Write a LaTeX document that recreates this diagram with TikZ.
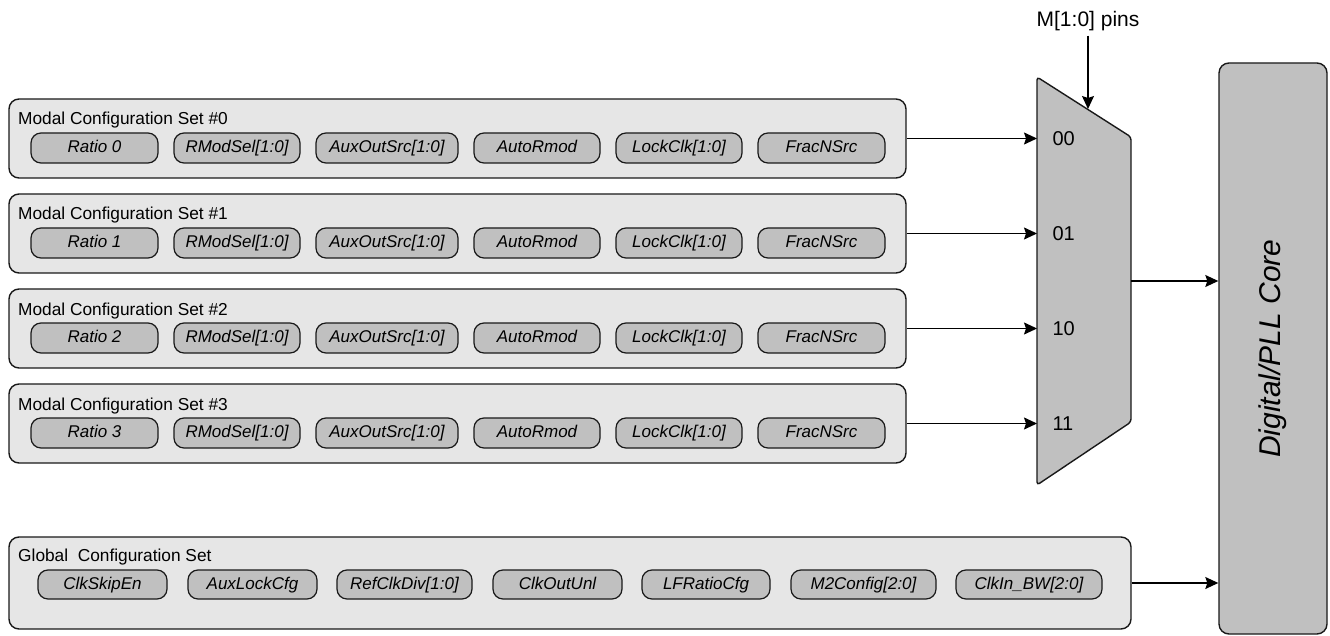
\documentclass[tikz,border=0pt]{standalone}
\usepackage{fontspec}
\setmainfont{Liberation Sans}
\usetikzlibrary{arrows.meta}
\definecolor{boxfill}{HTML}{E6E6E6}
\definecolor{pillfill}{HTML}{C0C0C0}
\tikzset{
  setbox/.style={draw=black!90, line width=1.4pt, fill=boxfill, rounded corners=10pt, inner sep=0pt},
  pill/.style={draw=black!90, line width=1.2pt, fill=pillfill, rounded corners=10pt, inner sep=0pt,
               minimum height=30pt, text height=12.5pt, text depth=3.5pt,
               font=\itshape\fontsize{17}{20}\selectfont},
  settitle/.style={anchor=base west, inner sep=0pt, font=\fontsize{17.3}{20}\selectfont},
  arr/.style={line width=1.3pt, -{Stealth[length=13pt,width=12pt,inset=2pt]}},
  muxlab/.style={anchor=west, font=\fontsize{20}{24}\selectfont},
  grayshape/.style={draw=black!90, line width=1.4pt, fill=pillfill},
}
\begin{document}
\begin{tikzpicture}[x=1pt,y=-1pt]
\useasboundingbox (0,0) rectangle (1330,636);

% mux
\draw[grayshape, rounded corners=3pt] (1037,77) -- (1131,137) -- (1131,422) -- (1037,485) -- cycle;
\coordinate (muxL) at (1037,281);
\coordinate (muxR) at (1131,281);
\coordinate (muxtop) at (1088,109);

% core
\node[grayshape, rounded corners=10pt, minimum width=108pt, minimum height=571pt, inner sep=0pt] (core) at (1273,348.5) {};
\node[rotate=90, font=\itshape\fontsize{30}{36}\selectfont] (corelabel) at (core.center) {Digital/PLL Core};

% modal sets
\foreach \k in {0,1,2,3}{
  \pgfmathsetmacro{\cy}{138.5+95*\k}
  \pgfmathsetmacro{\py}{148+95*\k}
  \pgfmathsetmacro{\ty}{125+95*\k}
  \node[setbox, minimum width=897pt, minimum height=79pt] (set\k) at (457.5,\cy) {};
  \node[settitle] (title\k) at (18,\ty) {Modal Configuration Set \#\k};
  \node[pill, minimum width=127pt] (ratio\k) at (94.5,\py) {Ratio \k};
  \node[pill, minimum width=126pt] (rmod\k) at (237,\py) {RModSel[1:0]};
  \node[pill, minimum width=142pt] (aux\k) at (387,\py) {AuxOutSrc[1:0]};
  \node[pill, minimum width=126pt] (auto\k) at (537,\py) {AutoRmod};
  \node[pill, minimum width=126pt] (lock\k) at (679,\py) {LockClk[1:0]};
  \node[pill, minimum width=127pt] (frac\k) at (821.5,\py) {FracNSrc};
  \draw[arr] (set\k.east) -- (set\k.east -| muxL);
}
\node[muxlab] (in00) at (1049,138.5) {00};
\node[muxlab] (in01) at (1049,233.5) {01};
\node[muxlab] (in10) at (1049,328.5) {10};
\node[muxlab] (in11) at (1049,423.5) {11};

% select pins
\node[anchor=base, inner sep=4pt, font=\fontsize{21}{25}\selectfont] (mpins) at (1088,27) {M[1:0] pins};
\draw[arr] (mpins.south) -- (muxtop);

% mux output
\draw[arr] (muxR) -- (muxR -| core.west);

% global set
\node[setbox, minimum width=1122pt, minimum height=92pt] (global) at (570,583) {};
\node[settitle] (gtitle) at (18,561) {Global\ \ Configuration Set};
\node[pill, minimum width=129pt, minimum height=29pt] (g1) at (102.5,584.5) {ClkSkipEn};
\node[pill, minimum width=129pt, minimum height=29pt] (g2) at (252.5,584.5) {AuxLockCfg};
\node[pill, minimum width=135pt, minimum height=29pt] (g3) at (404.5,584.5) {RefClkDiv[1:0]};
\node[pill, minimum width=129pt, minimum height=29pt] (g4) at (557.5,584.5) {ClkOutUnl};
\node[pill, minimum width=128pt, minimum height=29pt] (g5) at (706,584.5) {LFRatioCfg};
\node[pill, minimum width=145pt, minimum height=29pt] (g6) at (863.5,584.5) {M2Config[2:0]};
\node[pill, minimum width=146pt, minimum height=29pt] (g7) at (1029,584.5) {ClkIn\_BW[2:0]};
\draw[arr] (global.east) -- (global.east -| core.west);
\end{tikzpicture}
\end{document}
